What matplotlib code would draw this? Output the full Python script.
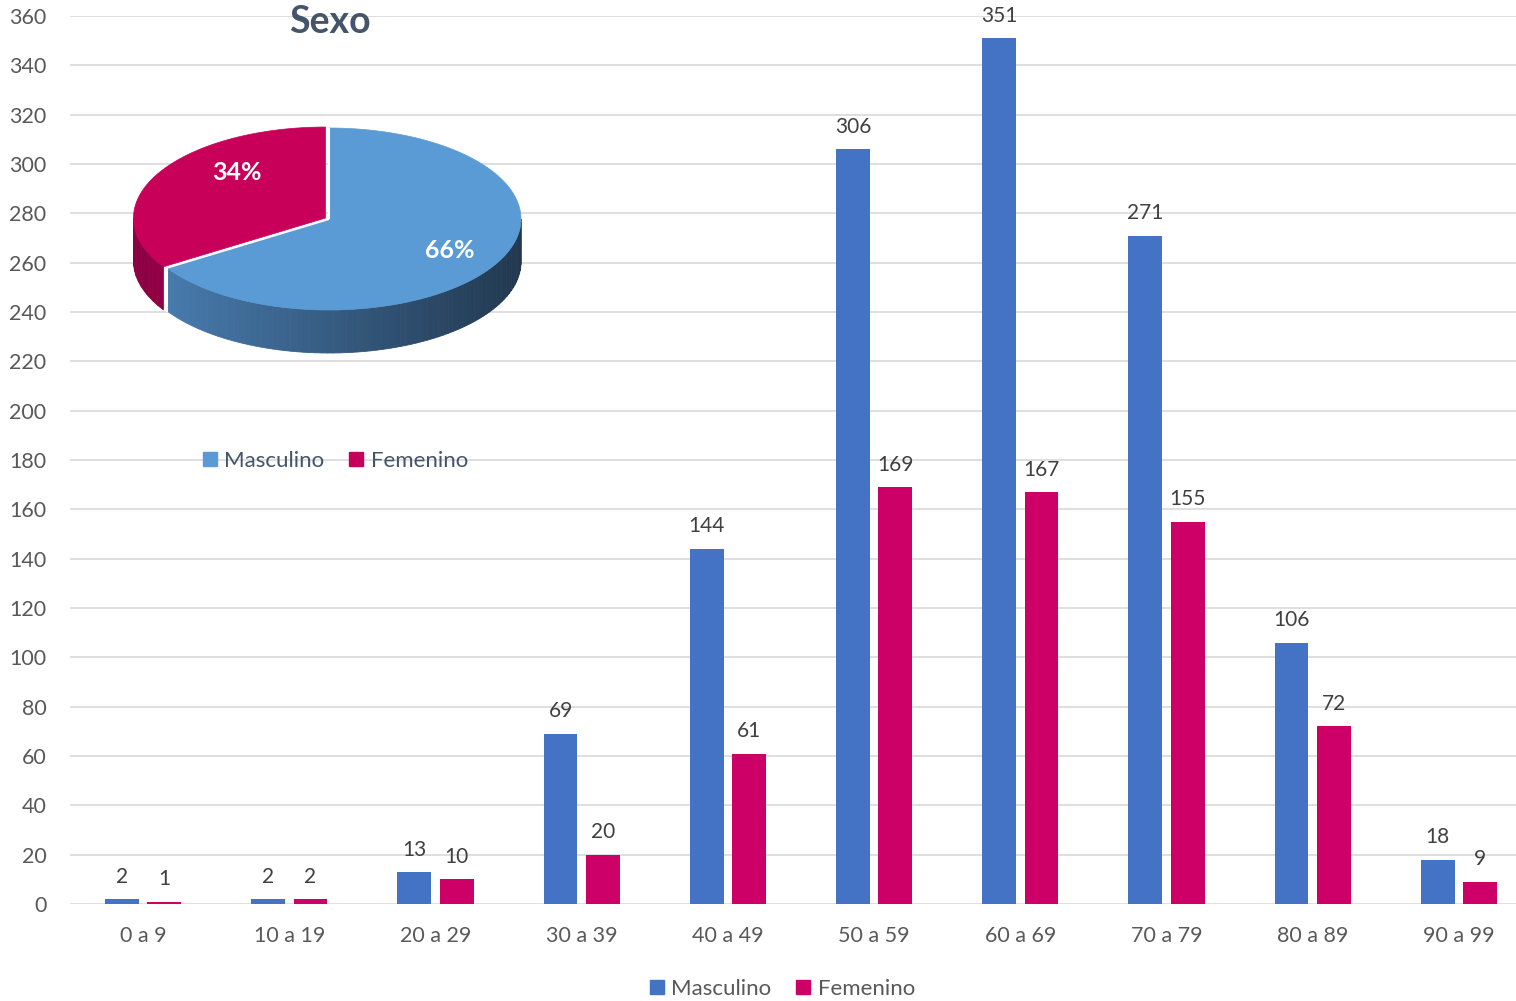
import numpy as np
import matplotlib

matplotlib.use("Agg")
import matplotlib.pyplot as plt
from matplotlib.patches import Polygon
from matplotlib.lines import Line2D
from matplotlib.colors import to_rgb

plt.rcParams["font.family"] = ["Lato", "DejaVu Sans"]

# data
age_groups = ["0 a 9", "10 a 19", "20 a 29", "30 a 39", "40 a 49",
              "50 a 59", "60 a 69", "70 a 79", "80 a 89", "90 a 99"]
masculino = [2, 2, 13, 69, 144, 306, 351, 271, 106, 18]
femenino = [1, 2, 10, 20, 61, 169, 167, 155, 72, 9]
pie_labels = ["Masculino", "Femenino"]
pie_shares = [66, 34]

BLUE = "#4472C4"
PINK = "#CC0066"
PIE_BLUE = "#5B9BD5"
PIE_PINK = "#C8005A"
TEXT = "#595959"

W, H = 1516, 1001
fig = plt.figure(figsize=(W / 100, H / 100), dpi=100)
# plot area runs slightly past the right edge of the picture
ax = fig.add_axes([70 / W, 1 - 904 / H, (1532 - 70) / W, (904 - 16) / H])

x = np.arange(len(age_groups))
bw = 0.23
off = 0.145
b1 = ax.bar(x - off, masculino, bw, color=BLUE, zorder=3)
b2 = ax.bar(x + off, femenino, bw, color=PINK, zorder=3)
for bars, vals in ((b1, masculino), (b2, femenino)):
    for rect, v in zip(bars, vals):
        ax.text(rect.get_x() + rect.get_width() / 2, v + 5, str(v),
                ha="center", va="bottom", fontsize=15, color="#404040")

ax.set_xlim(-0.5, len(age_groups) - 0.5)
ax.set_ylim(0, 360)
ax.set_yticks(np.arange(0, 361, 20))
ax.set_xticks(x)
ax.set_xticklabels(age_groups)
ax.tick_params(length=0, labelsize=15.5, colors=TEXT)
ax.tick_params(axis="x", pad=16)
ax.tick_params(axis="y", pad=17)
for lbl in ax.get_yticklabels():
    lbl.set_horizontalalignment("right")
ax.grid(axis="y", color="#d9d9d9", linewidth=1.2, zorder=0)
for s in ax.spines.values():
    s.set_visible(False)

# bottom legend
handles = [Line2D([], [], marker="s", ls="", markersize=9.5, color=BLUE),
           Line2D([], [], marker="s", ls="", markersize=9.5, color=PINK)]
fig.legend(handles, ["Masculino", "Femenino"], loc="center",
           bbox_to_anchor=(782 / W, 1 - 989 / H), ncol=2, frameon=False,
           fontsize=16, handlelength=0.7, handletextpad=0.3,
           columnspacing=1.1, labelcolor=TEXT)

# inset 3D pie drawn in pixel coordinates
ov = fig.add_axes([0, 0, 1, 1], zorder=5)
ov.set_xlim(0, W)
ov.set_ylim(H, 0)
ov.axis("off")
ov.patch.set_visible(False)

cx, cy, rx, ry, depth = 329, 219, 192, 91, 43
fr = np.array(pie_shares, dtype=float) / sum(pie_shares)
split = 90 - 360 * fr[0]  # blue goes clockwise from 90
pink_start, pink_end = 90, 360 + split  # pink counterclockwise from 90
mid = np.radians((pink_start + pink_end) / 2)
pdx, pdy = 4 * np.cos(mid), -2 * np.sin(mid)


def arc(a1, a2, n=120, dx=0, dy=0, dz=0):
    t = np.radians(np.linspace(a1, a2, n))
    return np.column_stack([cx + dx + rx * np.cos(t), cy + dy + dz - ry * np.sin(t)])


def side(a1, a2, c_left, c_right, dx=0, dy=0, n=80):
    edges = np.linspace(a1, a2, n + 1)
    cl, cr = np.array(to_rgb(c_left)), np.array(to_rgb(c_right))
    for i in range(n):
        top = arc(edges[i], edges[i + 1], 4, dx, dy)
        bot = arc(edges[i + 1], edges[i], 4, dx, dy, depth)
        xm = top[:, 0].mean()
        f = np.clip((xm - (cx - rx)) / (2 * rx), 0, 1)
        col = cl + (cr - cl) * f
        ov.add_patch(Polygon(np.vstack([top, bot]), closed=True,
                             facecolor=col, edgecolor=col, linewidth=0.6))


# pink side (front-left)
side(180, pink_end, "#8e0044", "#a0004c", pdx, pdy, n=10)
# blue side
side(pink_end, 360, "#4a80b5", "#22384f")

# top faces
blue_top = np.vstack([[cx, cy], arc(split, 90)])
ov.add_patch(Polygon(blue_top, closed=True, facecolor=PIE_BLUE,
                     edgecolor=PIE_BLUE, linewidth=0.5))
pink_top = np.vstack([[cx + pdx, cy + pdy], arc(pink_start, pink_end, dx=pdx, dy=pdy)])
ov.add_patch(Polygon(pink_top, closed=True, facecolor=PIE_PINK,
                     edgecolor=PIE_PINK, linewidth=0.5))
# white seams between slices
for a in (90, split):
    p = arc(a, a, 1)[0]
    ov.plot([cx, p[0]], [cy, p[1]], color="white", lw=1.5, solid_capstyle="butt")
p = arc(split, split, 1)[0]
ov.plot([p[0], p[0]], [p[1], p[1] + depth], color="white", lw=1.5)

ov.text(450, 251, f"{pie_shares[0]}%", ha="center", va="center",
        fontsize=18, fontweight="bold", color="white")
ov.text(237, 173, f"{pie_shares[1]}%", ha="center", va="center",
        fontsize=18, fontweight="bold", color="white")
ov.text(330, 22, "Sexo", ha="center", va="center",
        fontsize=27, fontweight="bold", color="#44546A")

pie_handles = [Line2D([], [], marker="s", ls="", markersize=9.5, color=PIE_BLUE),
               Line2D([], [], marker="s", ls="", markersize=9.5, color=PIE_PINK)]
ov.legend(pie_handles, pie_labels, loc="center",
          bbox_to_anchor=(335 / W, 1 - 461 / H), bbox_transform=fig.transFigure,
          ncol=2, frameon=False, fontsize=16, handlelength=0.7, handletextpad=0.3,
          columnspacing=1.1, labelcolor="#44546A")

fig.savefig("out.png", dpi=100)
